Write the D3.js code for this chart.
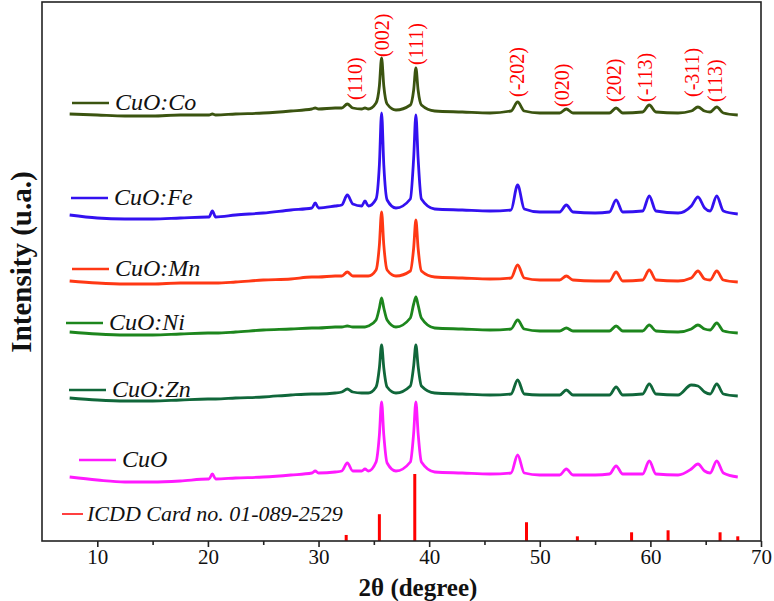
<!DOCTYPE html>
<html>
<head>
<meta charset="utf-8">
<script src="https://cdn.jsdelivr.net/npm/d3@7"></script>
<style>
  body { margin: 0; background: #fff; }
  svg { display: block; font-family: "Liberation Serif", "Times New Roman", serif; }
</style>
</head>
<body>
<section></section>
<script>
//2θ positions shared by every pattern
const twoTheta = [7.5, 10, 12.5, 15, 17.5, 20, 20.1, 20.4, 20.7, 22.5,
  25, 27.5, 29.4, 29.7, 30.0, 31.5, 32.1, 32.6, 33.1, 33.9,
  34.2, 34.5, 35.2, 35.5, 35.7, 35.9, 36.2, 37.0, 38.3, 38.6,
  38.8, 39.0, 39.3, 40.5, 43, 45.5, 47.4, 48.0, 48.6, 50,
  51.8, 52.4, 53.0, 55, 56.3, 56.9, 57.5, 59.3, 59.9, 60.5,
  62.5, 63.7, 64.3, 64.9, 65.4, 66.0, 66.6, 67.9];

//Stacked intensities (u.a.) of each sample, top to bottom
const cuoCo = [427, 426, 425, 425, 426, 426, 426, 427, 426, 427,
  428, 430, 432, 433, 432, 433, 433, 437, 433, 432,
  433, 432, 438, 455, 483, 455, 437, 431, 436, 451,
  473, 451, 436, 430, 429, 428, 430, 439, 430, 428,
  428, 432, 428, 428, 428, 433, 428, 429, 436, 429,
  428, 430, 434, 430, 429, 434, 428, 426];
const cuoFe = [326, 323, 322, 322, 323, 324, 324, 330, 324, 326,
  328, 331, 333, 338, 333, 335, 336, 346, 337, 335,
  340, 335, 342, 376, 428, 376, 341, 333, 342, 383,
  426, 383, 342, 332, 331, 330, 331, 356, 332, 329,
  329, 336, 329, 328, 329, 341, 329, 330, 345, 330,
  328, 335, 344, 333, 330, 345, 330, 327];
const cuoMn = [260, 258, 257, 257, 258, 258, 258, 258, 258, 259,
  261, 262, 264, 264, 264, 265, 265, 269, 265, 265,
  265, 265, 271, 296, 329, 296, 271, 265, 270, 293,
  321, 293, 270, 264, 263, 262, 263, 276, 263, 261,
  261, 265, 261, 260, 260, 269, 260, 261, 271, 261,
  260, 263, 270, 262, 261, 270, 261, 259];
const cuoNi = [209, 207, 206, 206, 207, 208, 208, 208, 208, 209,
  211, 212, 213, 213, 213, 214, 214, 215, 214, 214,
  214, 215, 221, 233, 243, 233, 221, 214, 223, 237,
  244, 236, 223, 213, 212, 211, 212, 221, 212, 210,
  210, 213, 210, 210, 210, 215, 210, 210, 216, 210,
  209, 212, 216, 212, 211, 218, 210, 208];
const cuoZn = [143, 141, 140, 140, 141, 142, 142, 142, 142, 143,
  144, 146, 147, 147, 147, 148, 149, 152, 149, 148,
  148, 148, 154, 173, 196, 173, 154, 148, 155, 175,
  196, 175, 155, 148, 147, 146, 147, 161, 147, 146,
  146, 151, 146, 146, 146, 154, 146, 147, 157, 147,
  146, 156, 155, 149, 147, 157, 147, 145];
const cuoPure = [64, 61, 59, 59, 60, 62, 62, 67, 62, 63,
  64, 66, 68, 70, 68, 69, 70, 78, 70, 70,
  72, 70, 79, 106, 139, 106, 78, 70, 79, 108,
  139, 108, 79, 69, 68, 67, 68, 86, 68, 66,
  66, 72, 66, 66, 67, 75, 67, 67, 80, 67,
  66, 72, 77, 70, 68, 80, 68, 64];

const seriesNames = ["CuO:Co", "CuO:Fe", "CuO:Mn", "CuO:Ni", "CuO:Zn", "CuO"];
const seriesValues = [cuoCo, cuoFe, cuoMn, cuoNi, cuoZn, cuoPure];
const seriesColors = ["#3b5410", "#3311f0", "#ff3814", "#1d861d", "#10673a", "#ff1aff"];

//ICDD reference card 01-089-2529 (relative intensity %)
const icddAngles = [32.5, 35.5, 38.7, 48.8, 53.4, 58.3, 61.6, 66.3, 67.9];
const icddIntensity = [9, 40, 100, 28, 7, 13, 16, 13, 7];

//Miller index labels over the CuO:Co pattern
const peakLabels = ["(110)", "(002)", "(111)", "(-202)", "(020)", "(202)", "(-113)", "(-311)", "(113)"];
const peakLabelAngles = [33.3, 35.74, 38.8, 47.95, 52.0, 56.7, 59.5, 63.8, 65.85];
const peakLabelLevels = [441, 484, 476, 444, 434, 439, 439, 444, 439];

const xTicks = [10, 20, 30, 40, 50, 60, 70];
const xMinorTicks = [15, 25, 35, 45, 55, 65];

let width = 774;
let height = 601;
const plot = { left: 42, right: 761, top: 2, bottom: 541 };

let svg = d3
    .select("section")
    .append("svg")
    .attr("width", width)
    .attr("height", height);

//Scales
const x = d3.scaleLinear().domain([5, 70]).range([plot.left, plot.right]);
const y = d3.scaleLinear().domain([0, 539]).range([plot.bottom, plot.top]);
const yIcdd = d3.scaleLinear().domain([0, 100]).range([plot.bottom, plot.bottom - 67]);

//Patterns
const line = d3.line()
    .x(d => x(d[0]))
    .y(d => y(d[1]))
    .curve(d3.curveMonotoneX);

seriesValues.forEach(function (values, i) {
    svg.append("path")
        .datum(twoTheta.map((t, j) => [t, values[j]]))
        .attr("fill", "none")
        .attr("stroke", seriesColors[i])
        .attr("stroke-width", 2.8)
        .attr("stroke-linejoin", "round")
        .attr("d", line);
});

//ICDD bars
svg.selectAll(".icdd")
    .data(icddAngles)
    .enter()
    .append("rect")
    .attr("class", "icdd")
    .attr("x", d => x(d) - 1.5)
    .attr("width", 3)
    .attr("y", (d, i) => yIcdd(icddIntensity[i]))
    .attr("height", (d, i) => plot.bottom - yIcdd(icddIntensity[i]))
    .attr("fill", "#ff0000");

//Peak labels
svg.selectAll(".hkl")
    .data(peakLabels)
    .enter()
    .append("text")
    .attr("class", "hkl")
    .attr("transform", (d, i) => `translate(${x(peakLabelAngles[i])},${y(peakLabelLevels[i])}) rotate(-90)`)
    .attr("dy", "0.35em")
    .attr("fill", "#ff0000")
    .attr("font-size", 20)
    .text(d => d);

//Legend entries placed beside each pattern
const legendPos = [[72, 103], [71, 198], [72, 269], [66, 323], [69, 390], [79, 460]];
seriesNames.forEach(function (name, i) {
    const [lx, ly] = legendPos[i];
    svg.append("line")
        .attr("x1", lx).attr("x2", lx + 37)
        .attr("y1", ly).attr("y2", ly)
        .attr("stroke", seriesColors[i])
        .attr("stroke-width", 2.6);
    svg.append("text")
        .attr("x", lx + 43)
        .attr("y", ly + 6.5)
        .attr("font-size", 24)
        .attr("font-style", "italic")
        .attr("fill", "#111")
        .text(name);
});
svg.append("line")
    .attr("x1", 62).attr("x2", 83)
    .attr("y1", 514).attr("y2", 514)
    .attr("stroke", "#ff0000")
    .attr("stroke-width", 1.5);
svg.append("text")
    .attr("x", 87)
    .attr("y", 521)
    .attr("font-size", 22)
    .attr("font-style", "italic")
    .attr("fill", "#111")
    .text("ICDD Card no. 01-089-2529");

//Frame
svg.append("rect")
    .attr("x", plot.left)
    .attr("y", plot.top)
    .attr("width", plot.right - plot.left)
    .attr("height", plot.bottom - plot.top)
    .attr("fill", "none")
    .attr("stroke", "#222")
    .attr("stroke-width", 1.6);

//X axis
const xAxis = svg.append("g")
    .attr("transform", `translate(0,${plot.bottom})`)
    .call(d3.axisBottom(x).tickValues(xTicks).tickSize(6).tickPadding(2).tickFormat(d3.format("d")));
xAxis.select(".domain").remove();
xAxis.selectAll(".tick line").attr("stroke", "#222").attr("stroke-width", 1.6);
xAxis.selectAll(".tick text")
    .attr("font-size", 21)
    .attr("fill", "#111")
    .attr("font-family", "'Liberation Serif', 'Times New Roman', serif");

const xMinor = svg.append("g")
    .attr("transform", `translate(0,${plot.bottom})`)
    .call(d3.axisBottom(x).tickValues(xMinorTicks).tickSize(4).tickFormat(""));
xMinor.select(".domain").remove();
xMinor.selectAll(".tick line").attr("stroke", "#222").attr("stroke-width", 1.6);

//Axis titles
svg.append("text")
    .attr("x", 418)
    .attr("y", 596)
    .attr("text-anchor", "middle")
    .attr("font-size", 25)
    .attr("font-weight", "bold")
    .attr("fill", "#111")
    .text("2θ (degree)");

svg.append("text")
    .attr("transform", "translate(31,262) rotate(-90)")
    .attr("text-anchor", "middle")
    .attr("font-size", 29)
    .attr("font-weight", "bold")
    .attr("fill", "#111")
    .text("Intensity (u.a.)");
</script>
</body>
</html>
